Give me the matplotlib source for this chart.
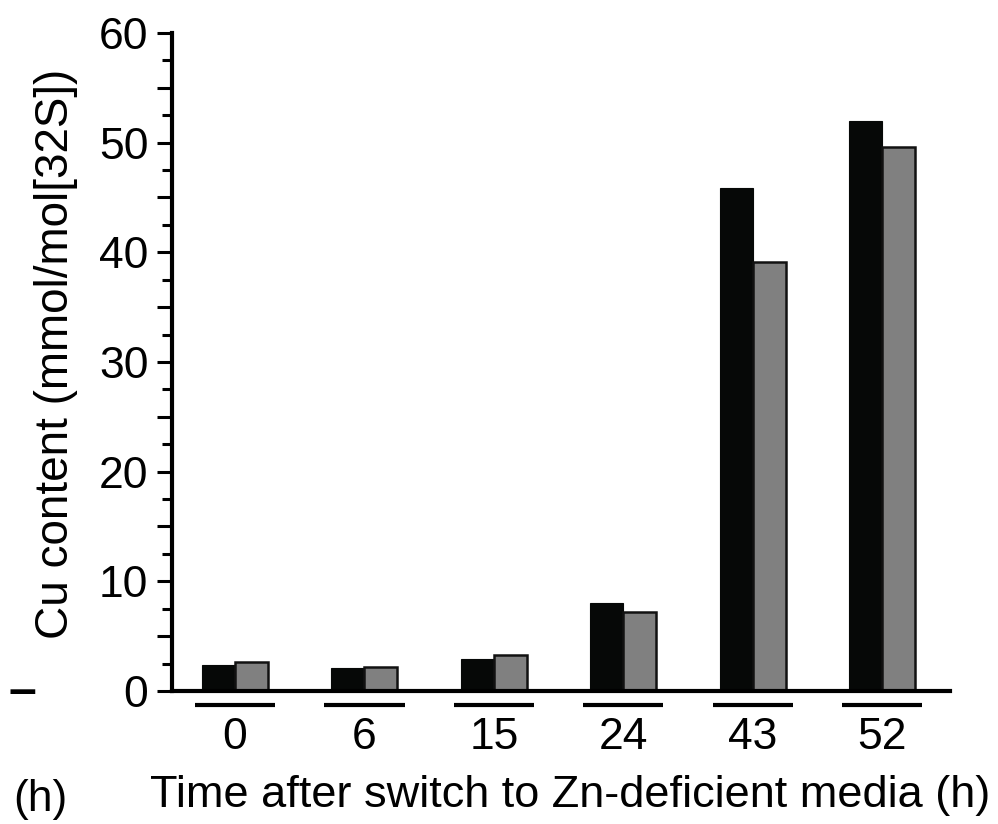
import matplotlib
matplotlib.use('Agg')
import matplotlib.pyplot as plt
import numpy as np
from matplotlib.ticker import MultipleLocator, FuncFormatter

plt.rcParams['font.family'] = ['Liberation Sans', 'DejaVu Sans']

times = ['0', '6', '15', '24', '43', '52']
black_vals = [2.4, 2.1, 2.9, 8.0, 45.9, 52.0]
gray_vals = [2.6, 2.2, 3.3, 7.2, 39.1, 49.6]

fig = plt.figure(figsize=(9.98, 8.24), dpi=100)
ax = fig.add_axes([0.1723, 0.1614, 0.7797, 0.7986])

x = np.arange(len(times))
w = 0.255
ax.bar(x - w/2, black_vals, w, color='#060807', edgecolor='#060807', linewidth=0.8)
ax.bar(x + w/2, gray_vals, w, color='#808080', edgecolor='#111111', linewidth=1.8)

ax.set_xlim(-0.487, 5.525)
ax.set_ylim(0, 60)

for s in ['top', 'right']:
    ax.spines[s].set_visible(False)
ax.spines['left'].set_linewidth(3)
ax.spines['bottom'].set_linewidth(3)

ax.yaxis.set_major_locator(MultipleLocator(5))
ax.yaxis.set_minor_locator(MultipleLocator(2.5))
ax.yaxis.set_major_formatter(FuncFormatter(lambda v, p: '%d' % v if v % 10 == 0 else ''))
ax.tick_params(axis='y', which='major', length=11, width=2.2, labelsize=32, pad=6)
ax.tick_params(axis='y', which='minor', length=7, width=2.2)

ax.set_xticks(x)
ax.set_xticklabels(times)
ax.tick_params(axis='x', length=0, labelsize=32, pad=19)

# underline below each group
ax.hlines([-1.3] * len(x), x - 0.31, x + 0.31, colors='black', linewidth=3, clip_on=False)

fig.text(0.056, 0.57, 'Cu content (mmol/mol[32S])', rotation=90, fontsize=33,
         ha='center', va='center')
fig.text(0.571, 0.035, 'Time after switch to Zn-deficient media (h)', fontsize=32.5,
         ha='center', va='center')
fig.text(0.04, 0.03, '(h)', fontsize=32, ha='center', va='center')
fig.text(0.022, 0.16, '\u2013', fontsize=36, fontweight='bold', ha='center', va='center')

fig.savefig('out.png', dpi=100)
